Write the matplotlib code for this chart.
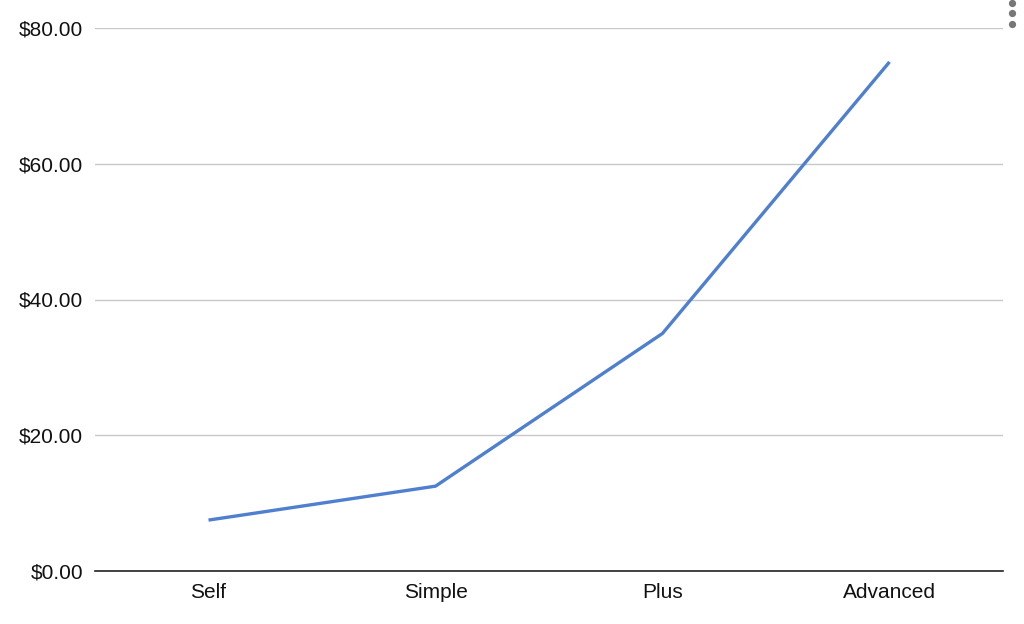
import matplotlib
matplotlib.use("Agg")
import matplotlib.pyplot as plt
from matplotlib.lines import Line2D
from matplotlib.ticker import FuncFormatter

categories = ["Self", "Simple", "Plus", "Advanced"]
prices = [7.5, 12.5, 35.0, 75.0]
y_ticks = [0, 20, 40, 60, 80]

plt.rcParams["font.family"] = ["Liberation Sans", "DejaVu Sans"]

fig = plt.figure(figsize=(10.24, 6.24), dpi=100)
fig.patch.set_facecolor("white")
ax = fig.add_axes([95 / 1024, 1 - 571 / 624, 908 / 1024, 543 / 624])

x = list(range(len(categories)))
ax.plot(x, prices, color="#4f7fcf", linewidth=2.4, solid_capstyle="butt", zorder=3)

ax.set_xlim(-0.5, len(categories) - 0.5)
ax.set_ylim(0, 80)
ax.set_yticks(y_ticks)
ax.yaxis.set_major_formatter(FuncFormatter(lambda v, _: f"${v:,.2f}"))
ax.set_xticks(x)
ax.set_xticklabels(categories)

ax.grid(axis="y", color="#c8c8c8", linewidth=1.0)
ax.set_axisbelow(True)
for side in ("top", "right", "left"):
    ax.spines[side].set_visible(False)
ax.spines["bottom"].set_color("#222222")
ax.spines["bottom"].set_linewidth(1.2)
ax.spines["bottom"].set_zorder(4)
ax.tick_params(axis="both", length=0, labelsize=15, colors="#111111")
ax.tick_params(axis="y", pad=8.6)
ax.tick_params(axis="x", pad=9)

# menu dots at top-right corner
for yy in (3, 13, 24):
    fig.add_artist(Line2D([1011.5 / 1024], [1 - yy / 624], marker="o", markersize=4.2,
                          color="#777777", linestyle="none", transform=fig.transFigure))

fig.savefig("out.png", dpi=100, facecolor="white")
